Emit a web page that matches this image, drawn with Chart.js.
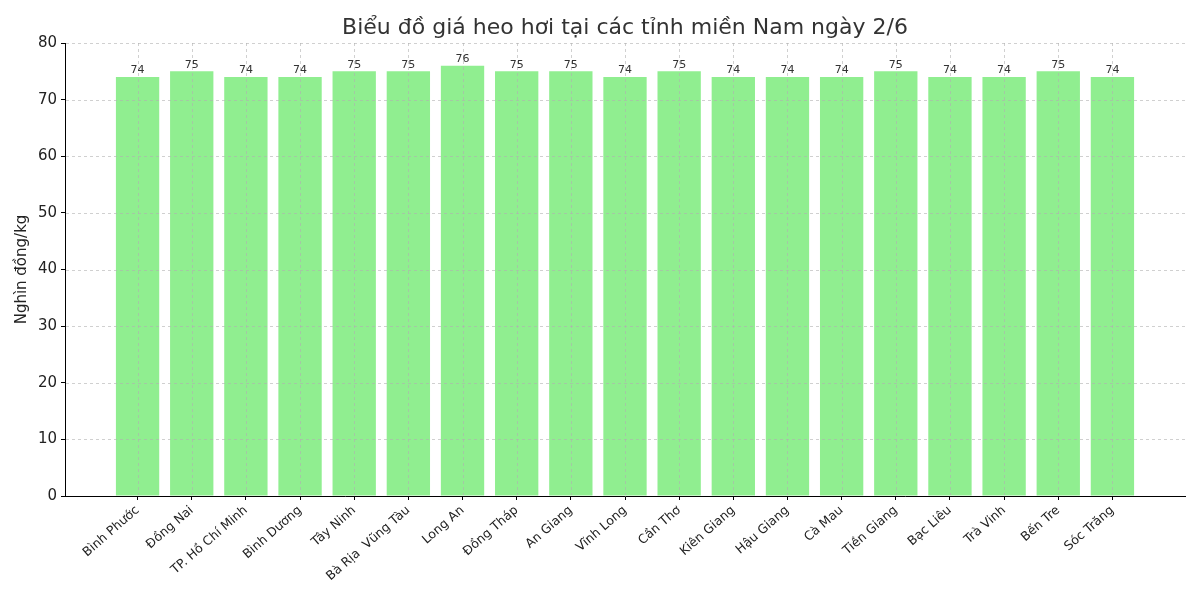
<!DOCTYPE html>
<html lang="vi">
<head>
<meta charset="UTF-8">
<title>Giá heo hơi</title>
<style>
  html, body { margin: 0; padding: 0; background: #fff; }
  #wrap { width: 1200px; height: 600px; }
</style>
</head>
<body>
<div id="wrap"><canvas id="canvas" width="1200" height="600"></canvas></div>
<script src="https://cdn.jsdelivr.net/npm/chart.js"></script>
<script>
const provinces = ['Bình Phước', 'Đồng Nai', 'TP. Hồ Chí Minh', 'Bình Dương', 'Tây Ninh',
  'Bà Rịa  Vũng Tàu', 'Long An', 'Đồng Tháp', 'An Giang', 'Vĩnh Long', 'Cần Thơ',
  'Kiên Giang', 'Hậu Giang', 'Cà Mau', 'Tiền Giang', 'Bạc Liêu', 'Trà Vinh', 'Bến Tre', 'Sóc Trăng'];
const prices = [74, 75, 74, 74, 75, 75, 76, 75, 75, 74, 75, 74, 74, 74, 75, 74, 74, 75, 74];
const yTicks = [0, 10, 20, 30, 40, 50, 60, 70, 80];

const FONT = "'DejaVu Sans', sans-serif";

// dashed grid drawn over the bars, like the original
const gridOnTop = {
  id: 'gridOnTop',
  afterDatasetsDraw(chart) {
    const ctx = chart.ctx, area = chart.chartArea;
    const xs = chart.scales.x, ys = chart.scales.y;
    ctx.save();
    ctx.strokeStyle = 'rgba(176,176,176,0.75)';
    ctx.lineWidth = 0.8;
    ctx.setLineDash([3, 3]);
    xs.ticks.forEach(t => {
      const px = Math.round(xs.getPixelForValue(t.value)) + 0.5;
      ctx.beginPath(); ctx.moveTo(px, area.top); ctx.lineTo(px, area.bottom - 1); ctx.stroke();
    });
    ys.ticks.forEach(t => {
      if (t.value === 0) return;
      const py = Math.round(ys.getPixelForValue(t.value)) + 0.5;
      ctx.beginPath(); ctx.moveTo(area.left + 1, py); ctx.lineTo(area.right, py); ctx.stroke();
    });
    ctx.restore();
  }
};

const valueLabels = {
  id: 'valueLabels',
  afterDatasetsDraw(chart) {
    const ctx = chart.ctx;
    const meta = chart.getDatasetMeta(0);
    ctx.save();
    ctx.font = '11px ' + FONT;
    ctx.fillStyle = '#333';
    ctx.textAlign = 'center';
    ctx.textBaseline = 'bottom';
    meta.data.forEach((bar, i) => {
      ctx.fillText(String(prices[i]), bar.x, bar.y - 1);
    });
    ctx.restore();
  }
};

new Chart(document.getElementById('canvas').getContext('2d'), {
  type: 'bar',
  data: {
    datasets: [{
      data: prices.map((v, i) => ({ x: i, y: v })),
      backgroundColor: '#90EE90',
      borderWidth: 0,
      barPercentage: 0.8,
      categoryPercentage: 1.0
    }]
  },
  options: {
    responsive: false,
    animation: false,
    devicePixelRatio: 1,
    layout: { padding: { left: 0, right: 15, top: 0, bottom: 0 } },
    plugins: {
      legend: { display: false },
      tooltip: { enabled: false },
      title: {
        display: true,
        fullSize: false,
        text: 'Biểu đồ giá heo hơi tại các tỉnh miền Nam ngày 2/6',
        color: '#333',
        font: { family: FONT, size: 22, weight: 'normal' },
        padding: { top: 15, bottom: 1.6 }
      }
    },
    scales: {
      x: {
        type: 'linear',
        min: -1.34,
        max: 19.34,
        offset: false,
        afterBuildTicks(scale) {
          scale.ticks = provinces.map((p, i) => ({ value: i }));
        },
        afterFit(scale) { scale.height = 104; },
        ticks: {
          autoSkip: false,
          minRotation: 41,
          maxRotation: 41,
          color: '#222',
          font: { family: FONT, size: 12.5 },
          padding: 3,
          callback: (v) => provinces[v] ?? ''
        },
        grid: {
          offset: false,
          drawOnChartArea: false,
          drawTicks: true,
          tickLength: 4,
          tickColor: '#000',
          tickWidth: 1,
          tickBorderDash: []
        },
        border: { display: true, color: '#000', width: 1 }
      },
      y: {
        min: 0,
        max: 80,
        afterBuildTicks(scale) {
          scale.ticks = yTicks.map(v => ({ value: v }));
        },
        afterFit(scale) { scale.width = 65; },
        ticks: {
          color: '#222',
          font: { family: FONT, size: 15 },
          padding: 4
        },
        grid: {
          offset: false,
          drawOnChartArea: false,
          drawTicks: true,
          tickLength: 4,
          tickColor: '#000',
          tickWidth: 1,
          tickBorderDash: []
        },
        border: { display: true, color: '#000', width: 1 },
        title: {
          display: true,
          text: 'Nghìn đồng/kg',
          color: '#222',
          font: { family: FONT, size: 15 },
          padding: { top: 13, bottom: 4 }
        }
      }
    }
  },
  plugins: [gridOnTop, valueLabels]
});
</script>
</body>
</html>
